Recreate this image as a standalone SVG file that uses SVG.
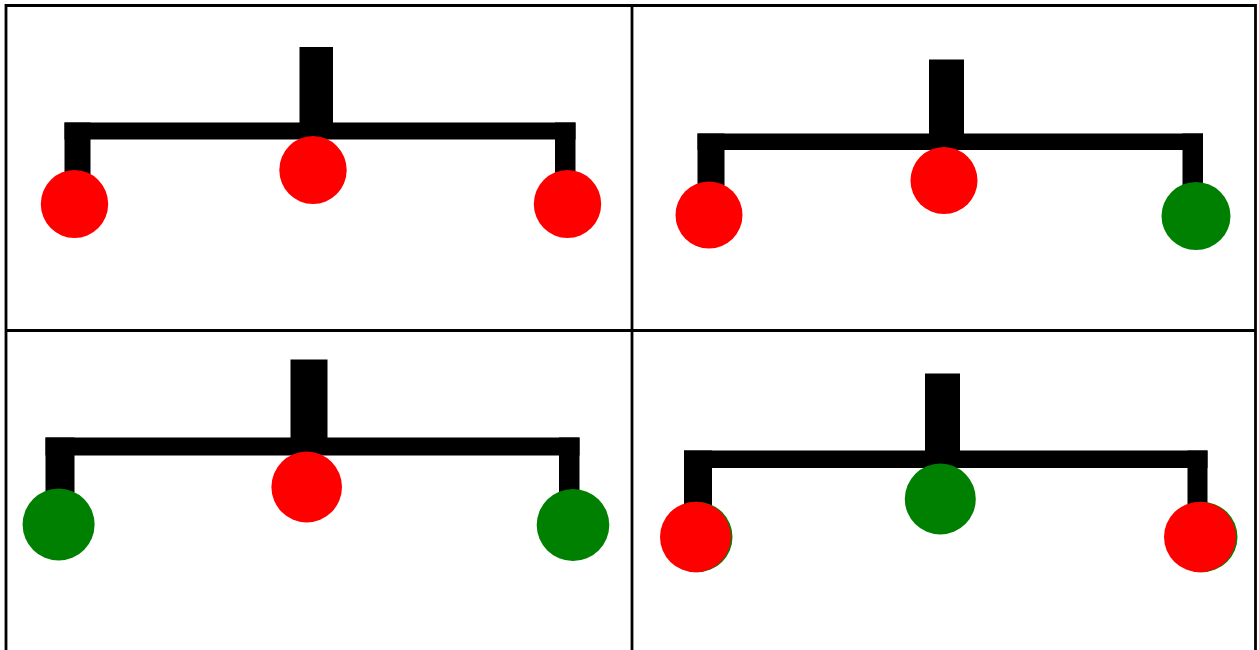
<svg xmlns="http://www.w3.org/2000/svg" width="1259" height="650" viewBox="0 0 1259 650">
<style>
.bar{fill:#000}
.red{fill:#ff0000}
.green{fill:#008000}
.grid{stroke:#000;stroke-width:2.8;fill:none}
</style>
<rect x="0" y="0" width="1259" height="650" fill="#fff"/>
<g id="grid">
<line class="grid" x1="6" y1="5.5" x2="1255.5" y2="5.5"/>
<line class="grid" x1="6" y1="4" x2="6" y2="650"/>
<line class="grid" x1="1255.5" y1="4" x2="1255.5" y2="650"/>
<line class="grid" x1="632" y1="4" x2="632" y2="650"/>
<line class="grid" x1="6" y1="330.5" x2="1255.5" y2="330.5"/>
</g>
<g id="connectors">
<!-- panel 1 -->
<rect class="bar" x="299.5" y="47" width="33.5" height="85"/>
<rect class="bar" x="64.5" y="122.5" width="511" height="17"/>
<rect class="bar" x="64.5" y="122.5" width="26" height="55"/>
<rect class="bar" x="555" y="122.5" width="20.5" height="55"/>
<!-- panel 2 -->
<rect class="bar" x="929" y="59.5" width="35" height="85"/>
<rect class="bar" x="697.5" y="133.5" width="505.5" height="16.5"/>
<rect class="bar" x="697.5" y="133.5" width="27" height="52"/>
<rect class="bar" x="1182.5" y="133.5" width="20.5" height="52"/>
<!-- panel 3 -->
<rect class="bar" x="290.5" y="359.5" width="37" height="88"/>
<rect class="bar" x="45.5" y="437.5" width="534" height="18"/>
<rect class="bar" x="45.5" y="437.5" width="29" height="55"/>
<rect class="bar" x="559" y="437.5" width="20.5" height="55"/>
<!-- panel 4 -->
<rect class="bar" x="925" y="373.5" width="35" height="85"/>
<rect class="bar" x="684" y="450.5" width="523.5" height="17.5"/>
<rect class="bar" x="684" y="450.5" width="28" height="55"/>
<rect class="bar" x="1187.5" y="450.5" width="20" height="55"/>
</g>
<g id="p1-left"><ellipse class="red" cx="74.5" cy="204" rx="33.7" ry="34"/></g>
<g id="p1-center"><ellipse class="red" cx="313" cy="170" rx="33.7" ry="34"/></g>
<g id="p1-right"><ellipse class="red" cx="567.5" cy="204" rx="33.7" ry="34"/></g>
<g id="p2-left"><ellipse class="red" cx="709" cy="215" rx="33.5" ry="33.5"/></g>
<g id="p2-center"><ellipse class="red" cx="944" cy="180.5" rx="33.5" ry="33.5"/></g>
<g id="p2-right"><ellipse class="green" cx="1196" cy="216" rx="34.5" ry="34"/></g>
<g id="p3-left"><ellipse class="green" cx="58.6" cy="524.5" rx="36" ry="36"/></g>
<g id="p3-center"><ellipse class="red" cx="306.7" cy="487" rx="35.3" ry="35.5"/></g>
<g id="p3-right"><ellipse class="green" cx="573" cy="525" rx="36.3" ry="36"/></g>
<g id="p4-left"><ellipse class="green" cx="697" cy="537" rx="35.5" ry="35.3"/><ellipse class="red" cx="695.5" cy="537" rx="35.5" ry="35.3"/></g>
<g id="p4-center"><ellipse class="green" cx="940.3" cy="499" rx="35.5" ry="35.5"/></g>
<g id="p4-right"><ellipse class="green" cx="1201.5" cy="537" rx="36" ry="35.3"/><ellipse class="red" cx="1200" cy="537" rx="36" ry="35.3"/></g>
</svg>
